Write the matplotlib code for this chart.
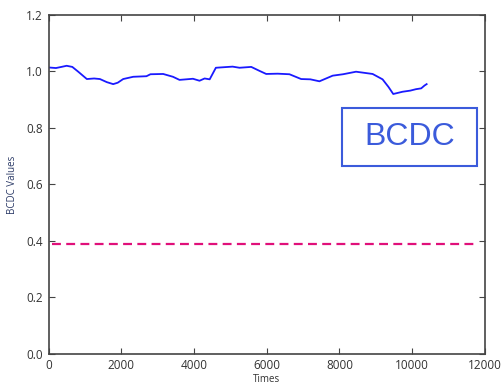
import matplotlib
matplotlib.use('Agg')
import matplotlib.pyplot as plt
from matplotlib.patches import Rectangle

# BCDC curve
tempos = [0, 200, 350, 494, 650, 813, 1050, 1250, 1410, 1600, 1775, 1900, 2050, 2325,
          2690, 2800, 3150, 3420, 3600, 3970, 4150, 4290, 4430, 4600, 5060, 5250,
          5573, 5800, 5985, 6300, 6625, 6947, 7200, 7450, 7815, 8100, 8457, 8913,
          9187, 9350, 9481, 9737, 9950, 10104, 10250, 10341, 10400]
bcdc = [1.014, 1.012, 1.016, 1.020, 1.016, 0.999, 0.973, 0.975, 0.973, 0.962, 0.955,
        0.960, 0.973, 0.981, 0.983, 0.990, 0.991, 0.981, 0.970, 0.974, 0.967, 0.975,
        0.972, 1.013, 1.017, 1.013, 1.016, 1.002, 0.991, 0.992, 0.990, 0.973, 0.972,
        0.965, 0.985, 0.990, 0.999, 0.991, 0.972, 0.945, 0.920, 0.928, 0.932, 0.937,
        0.940, 0.950, 0.955]

limiar_x = [100, 11800]
limiar_y = [0.39, 0.39]

plt.rcParams['font.family'] = ['Open Sans', 'DejaVu Sans']

fig = plt.figure(figsize=(5.03, 3.84), dpi=100)
ax = fig.add_axes([0.0968, 0.079, 0.867, 0.882])

ax.plot(tempos, bcdc, color='#1a1aff', linewidth=1.3)
ax.plot(limiar_x, limiar_y, color='#e0107a', linewidth=1.6, dashes=(4, 2.4))

ax.set_xlim(0, 12000)
ax.set_ylim(0, 1.2)
ax.set_xticks([0, 2000, 4000, 6000, 8000, 10000, 12000])
ax.set_yticks([0.0, 0.2, 0.4, 0.6, 0.8, 1.0, 1.2])
ax.set_yticklabels(['0.0', '0.2', '0.4', '0.6', '0.8', '1.0', '1.2'])
ax.tick_params(direction='in', top=True, right=True, length=4, width=0.8,
               labelsize=8.5, colors='#444444', labelcolor='#333333', pad=4)
for s in ax.spines.values():
    s.set_color('#444444')
    s.set_linewidth(1.2)

ax.set_xlabel('Times', fontsize=7, color='#333333', labelpad=1)
ax.set_ylabel('BCDC Values', fontsize=7, color='#2b3a67', labelpad=6)

# caixa do rótulo
ax.add_patch(Rectangle((8072, 0.666), 3708, 0.205, facecolor='white',
                       edgecolor='#3b5bdb', linewidth=1.5, zorder=3))
ax.text(9926, 0.768, 'BCDC', fontsize=23, color='#3b5bdb',
        family=['Liberation Sans', 'DejaVu Sans'], ha='center', va='center', zorder=4)

plt.savefig('out.png', dpi=100)
